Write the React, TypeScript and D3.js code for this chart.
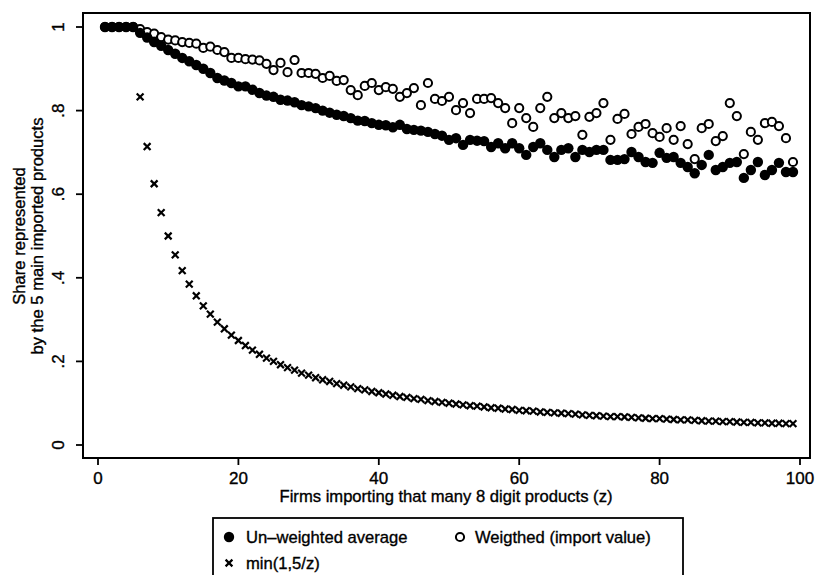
import { useEffect, useRef } from "react";
import * as d3 from "d3";

// firms importing z products, z = 1..99
const zValues = d3.range(1, 100);

const unweighted = [
  1, 1, 1, 1, 1, 0.986, 0.975, 0.964, 0.955, 0.945,
  0.936, 0.926, 0.918, 0.909, 0.9, 0.89, 0.878, 0.872, 0.866, 0.858,
  0.858, 0.85, 0.842, 0.836, 0.833, 0.826, 0.824, 0.82, 0.813, 0.81,
  0.806, 0.8, 0.795, 0.79, 0.787, 0.782, 0.776, 0.775, 0.77, 0.766,
  0.765, 0.76, 0.766, 0.756, 0.754, 0.752, 0.749, 0.744, 0.74, 0.73,
  0.734, 0.718, 0.73, 0.728, 0.727, 0.713, 0.722, 0.71, 0.722, 0.71,
  0.694, 0.713, 0.722, 0.706, 0.689, 0.706, 0.71, 0.689, 0.706, 0.701,
  0.706, 0.706, 0.682, 0.682, 0.684, 0.701, 0.689, 0.677, 0.675, 0.699,
  0.687, 0.689, 0.675, 0.665, 0.65, 0.67, 0.694, 0.658, 0.665, 0.675,
  0.677, 0.639, 0.658, 0.677, 0.646, 0.658, 0.675, 0.653, 0.653,
];

const weighted = [
  1, 1, 1, 1, 1, 0.995, 0.988, 0.984, 0.976, 0.97,
  0.968, 0.964, 0.962, 0.96, 0.95, 0.953, 0.945, 0.94, 0.926, 0.926,
  0.923, 0.922, 0.92, 0.912, 0.897, 0.914, 0.892, 0.921, 0.89, 0.89,
  0.888, 0.878, 0.883, 0.871, 0.873, 0.849, 0.837, 0.859, 0.866, 0.849,
  0.856, 0.852, 0.833, 0.842, 0.854, 0.813, 0.866, 0.828, 0.823, 0.833,
  0.801, 0.818, 0.794, 0.828, 0.828, 0.83, 0.818, 0.806, 0.77, 0.806,
  0.782, 0.761, 0.806, 0.833, 0.782, 0.794, 0.782, 0.787, 0.742, 0.785,
  0.794, 0.818, 0.73, 0.78, 0.792, 0.744, 0.761, 0.768, 0.746, 0.737,
  0.758, 0.73, 0.763, 0.72, 0.684, 0.758, 0.768, 0.727, 0.739, 0.818,
  0.787, 0.696, 0.749, 0.73, 0.77, 0.773, 0.763, 0.734, 0.677,
];

const minShare = [
  1, 1, 1, 1, 1, 0.833, 0.714, 0.625, 0.556, 0.5,
  0.455, 0.417, 0.385, 0.357, 0.333, 0.313, 0.294, 0.278, 0.263, 0.25,
  0.238, 0.227, 0.217, 0.208, 0.2, 0.192, 0.185, 0.179, 0.172, 0.167,
  0.161, 0.156, 0.152, 0.147, 0.143, 0.139, 0.135, 0.132, 0.128, 0.125,
  0.122, 0.119, 0.116, 0.114, 0.111, 0.109, 0.106, 0.104, 0.102, 0.1,
  0.098, 0.096, 0.094, 0.093, 0.091, 0.089, 0.088, 0.086, 0.085, 0.083,
  0.082, 0.081, 0.079, 0.078, 0.077, 0.076, 0.075, 0.074, 0.072, 0.071,
  0.07, 0.069, 0.068, 0.068, 0.067, 0.066, 0.065, 0.064, 0.063, 0.063,
  0.062, 0.061, 0.06, 0.06, 0.059, 0.058, 0.057, 0.057, 0.056, 0.056,
  0.055, 0.054, 0.054, 0.053, 0.053, 0.052, 0.052, 0.051, 0.051,
];

const xTicks = [0, 20, 40, 60, 80, 100];
const yTicks = [0, 0.2, 0.4, 0.6, 0.8, 1];
const yTickLabels = ["0", ".2", ".4", ".6", ".8", "1"];

const FONT = "'Liberation Sans', Arial, Helvetica, sans-serif";

export default function App() {
  const ref = useRef<SVGSVGElement | null>(null);

  useEffect(() => {
    if (!ref.current) return;
    const width = 816;
    const height = 575;
    const box = { left: 83, right: 810, top: 13, bottom: 458 };

    const svg = d3.select(ref.current);
    svg.selectAll("*").remove();
    svg.attr("viewBox", `0 0 ${width} ${height}`);

    const x = d3.scaleLinear().domain([0, 100]).range([98, 800]);
    const y = d3.scaleLinear().domain([0, 1]).range([445, 27]);

    svg.append("rect").attr("width", width).attr("height", height).attr("fill", "#fff");

    const addText = (
      g: d3.Selection<any, unknown, null, undefined>,
      size: number
    ) =>
      g
        .append("text")
        .attr("font-family", FONT)
        .attr("font-size", size)
        .attr("fill", "#000")
        .attr("stroke", "#000")
        .attr("stroke-width", 0.35);

    // plot region border
    svg
      .append("rect")
      .attr("x", box.left)
      .attr("y", box.top)
      .attr("width", box.right - box.left)
      .attr("height", box.bottom - box.top)
      .attr("fill", "none")
      .attr("stroke", "#000")
      .attr("stroke-width", 2);

    // y axis ticks + rotated labels
    const yAxis = svg.append("g");
    yTicks.forEach((t, i) => {
      yAxis
        .append("line")
        .attr("x1", box.left - 7)
        .attr("x2", box.left)
        .attr("y1", y(t))
        .attr("y2", y(t))
        .attr("stroke", "#000")
        .attr("stroke-width", 1.8);
      addText(yAxis, 17)
        .attr("transform", `translate(64,${y(t)}) rotate(-90)`)
        .attr("text-anchor", "middle")
        .text(yTickLabels[i]);
    });

    // x axis ticks + labels
    const xAxis = svg.append("g");
    xTicks.forEach((t) => {
      xAxis
        .append("line")
        .attr("x1", x(t))
        .attr("x2", x(t))
        .attr("y1", box.bottom)
        .attr("y2", box.bottom + 7)
        .attr("stroke", "#000")
        .attr("stroke-width", 1.8);
      addText(xAxis, 17)
        .attr("x", x(t))
        .attr("y", 484)
        .attr("text-anchor", "middle")
        .text(String(t));
    });

    addText(svg, 16.6)
      .attr("x", 446)
      .attr("y", 502)
      .attr("text-anchor", "middle")
      .text("Firms importing that many 8 digit products (z)");

    const yTitle = addText(svg, 16.6)
      .attr("transform", `translate(0,236) rotate(-90)`)
      .attr("text-anchor", "middle");
    yTitle.append("tspan").attr("x", 0).attr("y", 25).text("Share represented");
    yTitle.append("tspan").attr("x", 0).attr("y", 43).text("by the 5 main imported products");

    // min(1,5/z) crosses
    const cross = (g: d3.Selection<any, unknown, null, undefined>, cx: number, cy: number, s: number) => {
      g.append("path")
        .attr("d", `M${cx - s},${cy - s}L${cx + s},${cy + s}M${cx - s},${cy + s}L${cx + s},${cy - s}`)
        .attr("stroke", "#000")
        .attr("stroke-width", 2.2)
        .attr("fill", "none");
    };
    const crosses = svg.append("g");
    zValues.forEach((z, i) => cross(crosses, x(z), y(minShare[i]), 3.4));

    // weighted: hollow circles
    svg
      .append("g")
      .selectAll("circle")
      .data(zValues)
      .join("circle")
      .attr("cx", (z) => x(z))
      .attr("cy", (_, i) => y(weighted[i]))
      .attr("r", 4.1)
      .attr("fill", "#fff")
      .attr("stroke", "#000")
      .attr("stroke-width", 2);

    // unweighted: filled circles
    svg
      .append("g")
      .selectAll("circle")
      .data(zValues)
      .join("circle")
      .attr("cx", (z) => x(z))
      .attr("cy", (_, i) => y(unweighted[i]))
      .attr("r", 5.2)
      .attr("fill", "#000");

    // legend
    const lg = svg.append("g");
    lg.append("rect")
      .attr("x", 213)
      .attr("y", 518)
      .attr("width", 470)
      .attr("height", 80)
      .attr("fill", "#fff")
      .attr("stroke", "#000")
      .attr("stroke-width", 1.8);
    lg.append("circle").attr("cx", 229).attr("cy", 537).attr("r", 5.2).attr("fill", "#000");
    lg.append("circle")
      .attr("cx", 460)
      .attr("cy", 537)
      .attr("r", 4.1)
      .attr("fill", "#fff")
      .attr("stroke", "#000")
      .attr("stroke-width", 2);
    cross(lg, 229, 563, 3.4);
    addText(lg, 16.6).attr("x", 246).attr("y", 543).text("Un\u2013weighted average");
    addText(lg, 16.6).attr("x", 475).attr("y", 543).text("Weigthed (import value)");
    addText(lg, 16.6).attr("x", 246).attr("y", 569).text("min(1,5/z)");
  }, []);

  return (
    <svg
      ref={ref}
      width={816}
      height={575}
      role="img"
      aria-label="Share represented by the 5 main imported products"
      style={{ position: "absolute", left: 0, top: 0 }}
    />
  );
}
